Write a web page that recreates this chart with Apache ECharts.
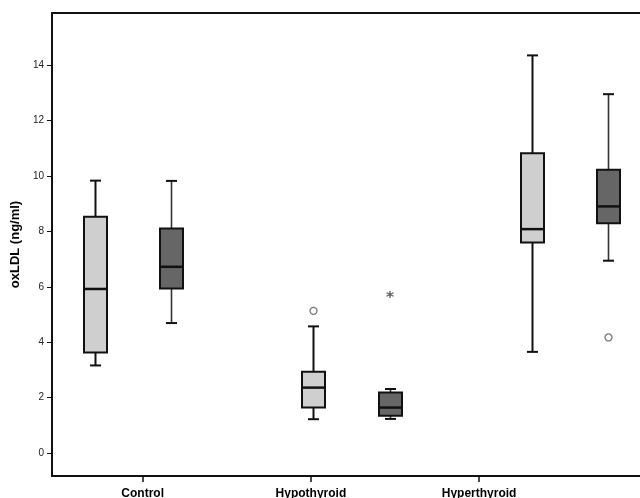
<!DOCTYPE html>
<html><head><meta charset="utf-8">
<script src="https://cdn.jsdelivr.net/npm/echarts@6/dist/echarts.min.js"></script>
<style>html,body{margin:0;padding:0;background:#fff}#c{width:640px;height:498px}</style>
</head><body><div id="c"></div>
<script>
const categories = ['Control', 'Hypothyroid', 'Hyperthyroid'];
const yTickValues = [0, 2, 4, 6, 8, 10, 12, 14];
const yName = 'oxLDL (ng/ml)';
// [min, Q1, median, Q3, max] per category
const lightBoxes = [
  [3.16, 3.63, 5.92, 8.53, 9.83],
  [1.22, 1.64, 2.36, 2.93, 4.57],
  [3.65, 7.60, 8.08, 10.82, 14.35]
];
const darkBoxes = [
  [4.69, 5.94, 6.72, 8.10, 9.82],
  [1.23, 1.34, 1.64, 2.18, 2.31],
  [6.94, 8.29, 8.90, 10.22, 12.95]
];
const lightCircleOutliers = [['Hypothyroid', 5.13]];
const darkCircleOutliers = [['Hyperthyroid', 4.17]];
const darkStarOutliers = [['Hypothyroid', 5.72]];

const FONT = 'Liberation Sans, Arial, sans-serif';
const LIGHT_OFFSET = -66.75, DARK_OFFSET = 9.75;
const BOX_W = 23, CAP_W = 11;

function boxRenderer(offset, fill, whiskerColor, whiskerWidth) {
  return function (params, api) {
    const ci = api.value(0);
    const cx = Math.round(api.coord([ci, 0])[0] + offset) + 0.5;
    const y = [1, 2, 3, 4, 5].map(i => api.coord([ci, api.value(i)])[1]);
    const hw = BOX_W / 2, cw = CAP_W / 2;
    const wStyle = { stroke: whiskerColor, lineWidth: whiskerWidth };
    return {
      type: 'group',
      children: [
        { type: 'line', shape: { x1: cx, y1: y[4], x2: cx, y2: y[3] }, style: wStyle },
        { type: 'line', shape: { x1: cx, y1: y[1], x2: cx, y2: y[0] }, style: wStyle },
        { type: 'line', shape: { x1: cx - cw, y1: y[4], x2: cx + cw, y2: y[4] }, style: { stroke: '#111', lineWidth: 2 } },
        { type: 'line', shape: { x1: cx - cw, y1: y[0], x2: cx + cw, y2: y[0] }, style: { stroke: '#111', lineWidth: 2 } },
        { type: 'rect', shape: { x: cx - hw, y: y[3], width: BOX_W, height: y[1] - y[3] },
          style: { fill: fill, stroke: '#111', lineWidth: 2 } },
        { type: 'line', shape: { x1: cx - hw, y1: y[2], x2: cx + hw, y2: y[2] }, style: { stroke: '#111', lineWidth: 2.5 } }
      ]
    };
  };
}

const toData = arr => arr.map((s, i) => [i].concat(s));

const chart = echarts.init(document.getElementById('c'), null, { renderer: 'canvas' });
chart.setOption({
  animation: false,
  backgroundColor: '#fff',
  grid: [
    { left: 52, top: 13, width: 655.5, bottom: 22, outerBoundsMode: 'none', containLabel: false,
      show: true, borderColor: '#111', borderWidth: 2, backgroundColor: 'transparent' },
    { left: 58.6, top: 13, width: 504.6, bottom: 22, outerBoundsMode: 'none', containLabel: false, show: false }
  ],
  xAxis: [
    { type: 'category', gridIndex: 0, data: categories, show: false },
    { type: 'category', gridIndex: 1, data: categories,
      axisLine: { show: false },
      axisTick: { show: true, alignWithLabel: true, length: 6, lineStyle: { color: '#111', width: 1.5 } },
      axisLabel: { margin: 12, fontSize: 12, fontWeight: 'bold', color: '#000', fontFamily: FONT },
      splitLine: { show: false } }
  ],
  yAxis: [
    { type: 'value', gridIndex: 0, min: -0.83, max: 15.88,
      name: yName, nameLocation: 'middle', nameGap: 29,
      nameTextStyle: { fontSize: 13, fontWeight: 'bold', color: '#000', fontFamily: FONT },
      axisLine: { show: false },
      axisTick: { show: true, customValues: yTickValues, length: 5, lineStyle: { color: '#111', width: 1 } },
      axisLabel: { customValues: yTickValues, fontSize: 10, color: '#222', margin: 8, fontFamily: FONT },
      splitLine: { show: false } },
    { type: 'value', gridIndex: 1, show: false, min: 0, max: 1 }
  ],
  series: [
    { type: 'custom', xAxisIndex: 0, yAxisIndex: 0, data: toData(lightBoxes),
      encode: { x: 0, y: [1, 2, 3, 4, 5] },
      renderItem: boxRenderer(LIGHT_OFFSET, '#cfcfcf', '#111', 2) },
    { type: 'custom', xAxisIndex: 0, yAxisIndex: 0, data: toData(darkBoxes),
      encode: { x: 0, y: [1, 2, 3, 4, 5] },
      renderItem: boxRenderer(DARK_OFFSET, '#666666', '#333', 1.6) },
    { type: 'scatter', xAxisIndex: 0, yAxisIndex: 0, data: lightCircleOutliers,
      symbol: 'circle', symbolSize: 7, symbolOffset: [LIGHT_OFFSET + 0.5, 0],
      itemStyle: { color: '#fff', borderColor: '#555', borderWidth: 1.3 } },
    { type: 'scatter', xAxisIndex: 0, yAxisIndex: 0, data: darkCircleOutliers,
      symbol: 'circle', symbolSize: 7, symbolOffset: [DARK_OFFSET + 0.5, 0],
      itemStyle: { color: '#fff', borderColor: '#555', borderWidth: 1.3 } },
    { type: 'scatter', xAxisIndex: 0, yAxisIndex: 0, data: darkStarOutliers,
      symbol: 'path://M5,0 L5,10 M0.7,2.5 L9.3,7.5 M0.7,7.5 L9.3,2.5', symbolSize: [7, 7], symbolOffset: [DARK_OFFSET + 0.5, 0],
      itemStyle: { color: 'none', borderColor: '#333', borderWidth: 1.3 } }
  ]
});
</script>
</body></html>
